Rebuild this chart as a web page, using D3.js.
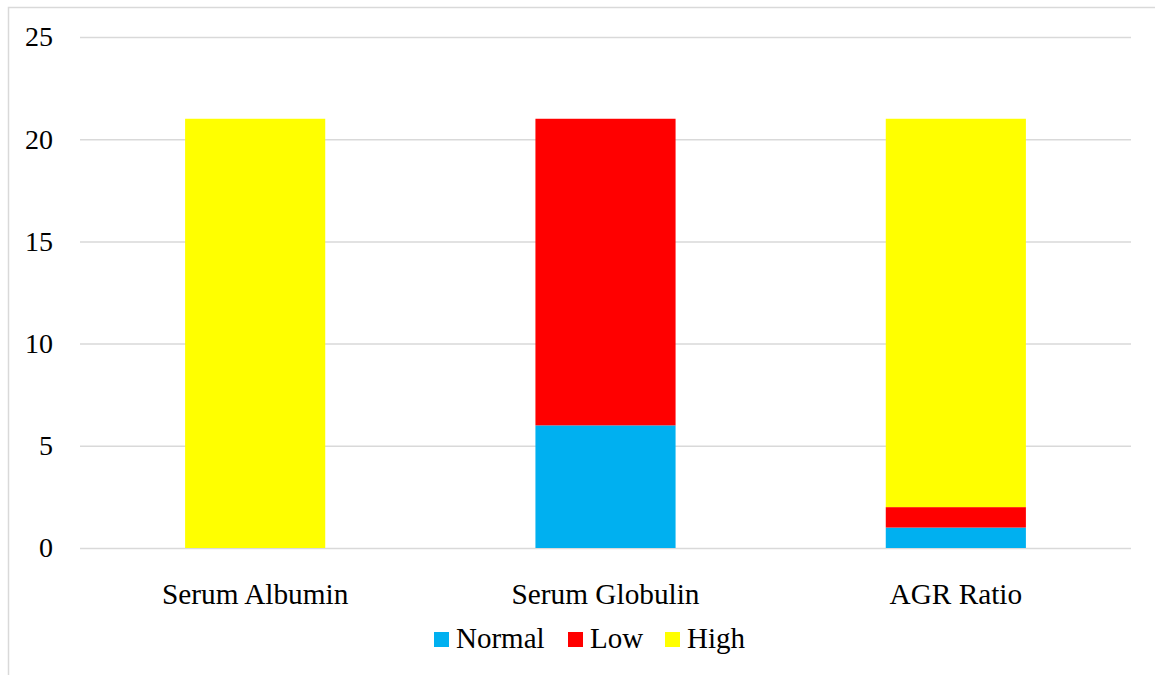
<!DOCTYPE html>
<html><head><meta charset="utf-8">
<script src="https://cdn.jsdelivr.net/npm/d3@7"></script>
<style>body{margin:0;background:#fff;}svg{display:block;}
text{font-family:"Times New Roman","Liberation Serif",Tinos,"DejaVu Serif",serif;}</style>
</head><body><svg id="c" width="1155" height="675"></svg>
<script>
const categories = ["Serum Albumin", "Serum Globulin", "AGR Ratio"];
const seriesNames = ["Normal", "Low", "High"];
const normalValues = [0, 6, 1];
const lowValues = [0, 15, 1];
const highValues = [21, 0, 19];
const yTicks = [0, 5, 10, 15, 20, 25];
const colors = ["#00b0f0", "#ff0000", "#ffff00"];

(function () {
const svg = d3.select("#c");
const mLeft = 80, mRight = 1131, mTop = 37, mBottom = 548;

svg.append("rect").attr("x", 8.5).attr("y", 7.5).attr("width", 1200).attr("height", 700)
  .attr("fill", "none").attr("stroke", "#d9d9d9").attr("stroke-width", 1.5);

const x = d3.scaleBand().domain(categories).range([mLeft, mRight]).paddingInner(0.6).paddingOuter(0.3);
const y = d3.scaleLinear().domain([0, 25]).range([mBottom, mTop]);

const gy = svg.append("g").attr("transform", `translate(${mLeft},0)`)
  .call(d3.axisLeft(y).tickValues(yTicks).tickSize(-(mRight - mLeft)).tickPadding(27).tickFormat(d3.format("d")));
gy.attr("font-family", null);
gy.select(".domain").remove();
gy.selectAll(".tick line").attr("stroke", "#d9d9d9").attr("stroke-width", 1.5);
gy.selectAll(".tick text").attr("font-size", 28).attr("fill", "#000");

const data = categories.map((c, i) => ({cat: c, Normal: normalValues[i], Low: lowValues[i], High: highValues[i]}));
const stack = d3.stack().keys(seriesNames)(data);
svg.append("g").selectAll("g").data(stack).join("g").attr("fill", (d, i) => colors[i])
  .selectAll("rect").data(d => d).join("rect")
  .attr("x", d => x(d.data.cat)).attr("width", x.bandwidth())
  .attr("y", d => y(d[1])).attr("height", d => y(d[0]) - y(d[1]));

const gx = svg.append("g").attr("transform", `translate(0,${mBottom})`)
  .call(d3.axisBottom(x).tickSize(0).tickPadding(35));
gx.attr("font-family", null);
gx.select(".domain").remove();
gx.selectAll(".tick text").attr("font-size", 29.3).attr("fill", "#000");

const legendX = [434, 568, 665];
const lg = svg.append("g");
seriesNames.forEach((s, i) => {
  lg.append("rect").attr("x", legendX[i]).attr("y", 632).attr("width", 15).attr("height", 15).attr("fill", colors[i]);
  lg.append("text").attr("x", legendX[i] + 22).attr("y", 648).attr("font-size", 29).attr("fill", "#000").text(s);
});
})();
</script></body></html>
